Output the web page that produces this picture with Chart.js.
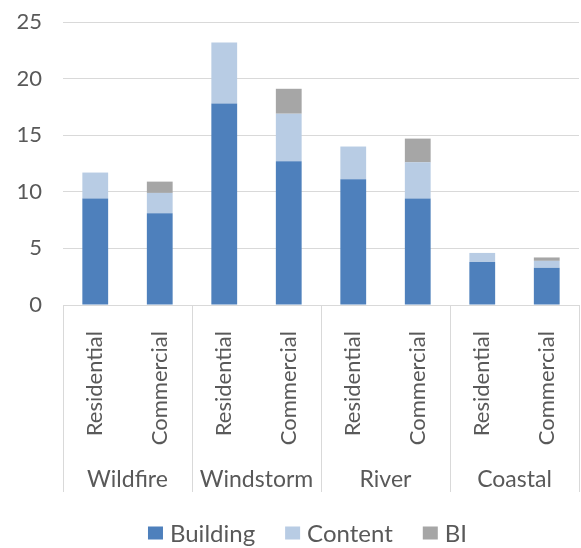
<!DOCTYPE html>
<html>
<head>
<meta charset="utf-8">
<script src="https://cdn.jsdelivr.net/npm/chart.js@4/dist/chart.umd.min.js"></script>
<style>
    html, body { margin: 0; padding: 0; background: #fff; }
    #wrap { width: 581px; height: 548px; }
</style>
</head>
<body>
<div id="wrap"><canvas id="chart"></canvas></div>
<script>
// --- Data ---
const perils = ['Wildfire', 'Windstorm', 'River', 'Coastal'];
const lines = ['Residential', 'Commercial', 'Residential', 'Commercial', 'Residential', 'Commercial', 'Residential', 'Commercial'];
const building = [9.4, 8.1, 17.8, 12.7, 11.1, 9.4, 3.8, 3.3];
const content = [2.3, 1.8, 5.4, 4.2, 2.9, 3.2, 0.8, 0.6];
const bi = [0, 1.0, 0, 2.2, 0, 2.1, 0, 0.3];
const yTicks = [0, 5, 10, 15, 20, 25];

const FONT = 'Lato, "Open Sans", sans-serif';
const TEXT = '#595959';
const LINE = '#d9d9d9';
const AXIS_H = 187;     // x-axis band: rotated labels + group names
const LEGEND_H = 56;    // room left at the bottom for the legend

// group labels + divider lines under the axis, legend at the bottom
const groupAxis = {
    id: 'groupAxis',
    afterDraw(chart) {
        const ctx = chart.ctx;
        const x = chart.scales.x;
        const top = chart.chartArea.bottom;
        const bottom = x.bottom;
        const per = lines.length / perils.length;

        const edges = [x.left];
        for (let g = 1; g < perils.length; g++) {
            const i = g * per;
            edges.push((x.getPixelForValue(i - 1) + x.getPixelForValue(i)) / 2);
        }
        edges.push(x.right);

        ctx.save();
        ctx.strokeStyle = LINE;
        ctx.lineWidth = 1;
        edges.forEach(px => {
            ctx.beginPath();
            ctx.moveTo(Math.round(px) + 0.5, top);
            ctx.lineTo(Math.round(px) + 0.5, bottom);
            ctx.stroke();
        });

        ctx.fillStyle = TEXT;
        ctx.font = '23px ' + FONT;
        ctx.textAlign = 'center';
        ctx.textBaseline = 'middle';
        perils.forEach((p, g) => {
            const cx = (edges[g] + edges[g + 1]) / 2;
            ctx.fillText(p, cx, top + 175);
        });

        // legend
        const boxW = 15, boxH = 13, gapText = 7, gapItem = 30;
        ctx.font = '24px ' + FONT;
        ctx.textAlign = 'left';
        const items = chart.data.datasets.map(ds => ({
            label: ds.label, color: ds.backgroundColor,
            w: boxW + gapText + ctx.measureText(ds.label).width
        }));
        const total = items.reduce((s, it) => s + it.w, 0) + gapItem * (items.length - 1);
        let lx = (chart.width - total) / 2 + 17;
        const ly = 533;
        items.forEach(it => {
            ctx.fillStyle = it.color;
            ctx.fillRect(lx, ly - boxH / 2, boxW, boxH);
            ctx.fillStyle = TEXT;
            ctx.fillText(it.label, lx + boxW + gapText, ly + 1);
            lx += it.w + gapItem;
        });
        ctx.restore();
    }
};

new Chart(document.getElementById('chart'), {
    type: 'bar',
    data: {
        labels: lines,
        datasets: [
            { label: 'Building', data: building, backgroundColor: '#4e80bc' },
            { label: 'Content', data: content, backgroundColor: '#b8cce4' },
            { label: 'BI', data: bi, backgroundColor: '#a6a6a6' }
        ]
    },
    options: {
        responsive: true,
        maintainAspectRatio: false,
        animation: false,
        layout: { padding: { top: 22, right: 2, left: 16, bottom: LEGEND_H } },
        datasets: { bar: { categoryPercentage: 1, barPercentage: 0.4 } },
        scales: {
            x: {
                stacked: true,
                grid: { display: false },
                border: { display: true, color: LINE },
                ticks: {
                    color: TEXT,
                    font: { family: FONT, size: 22 },
                    minRotation: 90,
                    maxRotation: 90,
                    padding: 18
                },
                afterFit(scale) {
                    scale.height = AXIS_H;
                    scale.paddingLeft = 0;
                    scale.paddingRight = 0;
                }
            },
            y: {
                stacked: true,
                min: yTicks[0],
                max: yTicks[yTicks.length - 1],
                afterBuildTicks(scale) { scale.ticks = yTicks.map(v => ({ value: v })); },
                grid: { color: LINE, drawTicks: false },
                border: { display: false },
                ticks: {
                    color: TEXT,
                    font: { family: FONT, size: 22 },
                    padding: 21
                },
                afterFit(scale) {
                    scale.width = 47;
                    scale.paddingTop = 0;
                    scale.paddingBottom = 0;
                }
            }
        },
        plugins: {
            legend: { display: false },
            tooltip: { enabled: false }
        }
    },
    plugins: [groupAxis]
});
</script>
</body>
</html>
